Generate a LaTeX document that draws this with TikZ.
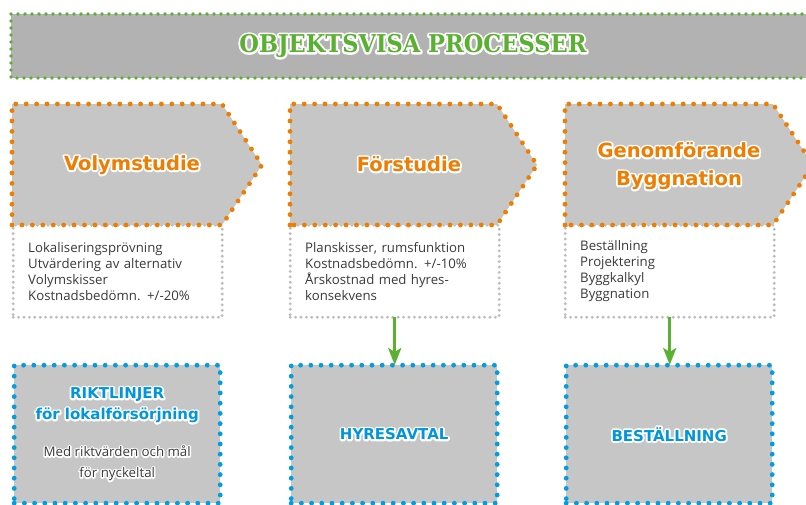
\documentclass[tikz,border=0pt]{standalone}
\usepackage{fontspec}
\usetikzlibrary{arrows.meta,decorations.markings}
\setmainfont{Open Sans}
\newfontfamily\headfont{DejaVu Sans}
\newfontfamily\titlefont{DejaVu Serif}[FakeStretch=0.92]
\definecolor{orng}{HTML}{EE7D00}
\definecolor{blu}{HTML}{009EE0}
\definecolor{bluetext}{HTML}{0096DB}
\definecolor{grn}{HTML}{5AB031}
\definecolor{boxgray}{HTML}{C6C6C6}
\definecolor{titlegray}{HTML}{B2B2B2}
\definecolor{dgray}{HTML}{BDBDBD}
\definecolor{desctext}{HTML}{3A3A3A}
% text with a white outline: a stroked copy behind, then the filled text
\newcommand\halo[4][3.6]{{#2\leavevmode\rlap{\special{pdf:code 1 Tr #1 w 1 J 1 j 1 1 1 RG}#4\special{pdf:code 0 Tr}}\color{#3}#4}}
\begin{document}
\begin{tikzpicture}[x=1pt,y=-1pt,
  dots/.style n args={3}{postaction={decorate, decoration={markings,
      mark=between positions 0 and 1 step #3 with {\fill[#1] (0,0) circle (#2);}}}},
  odot/.style={dots={orng}{2.4pt}{10.4pt}},
  gdot/.style={dots={grn}{1.9pt}{7pt}},
  bdot/.style={dots={blu}{2.4pt}{10.2pt}},
  desc/.style={dots={dgray}{1.6pt}{5.4pt}, fill=white,
    text width=179pt, inner xsep=15pt, inner ysep=0pt, minimum height=92pt,
    align=left, text=desctext, font=\fontsize{13.2}{16}\selectfont, anchor=north west},
  bluebox/.style={bdot, fill=boxgray, minimum width=206pt, minimum height=138pt,
    inner sep=0pt, align=center, anchor=north west},
  headtext/.style={align=center, inner sep=0pt},
  garrow/.style={draw=grn, line width=3.2pt, -{Stealth[length=17pt,width=13pt,inset=4pt]}}
]
\useasboundingbox (0,0) rectangle (806,504);

% title bar
\path[fill=titlegray] (11,14) rectangle (830,78);
\path[gdot] (830,14) -- (11,14) -- (11,78) -- (830,78);
\node[headtext] (title) at (413,46)
  {\halo[4]{\titlefont\bfseries\fontsize{24.5}{28}\selectfont}{grn}{OBJEKTSVISA PROCESSER}};

% description boxes
\node[desc] (d1) at (13,225) {Lokaliseringsprövning\\Utvärdering av alternativ\\Volymskisser\\Kostnadsbedömn. +/-20\%};
\node[desc] (d2) at (290,225) {Planskisser, rumsfunktion\\Kostnadsbedömn. +/-10\%\\Årskostnad med hyres-\\konsekvens};
\node[desc] (d3) at (565,225) {Beställning\\Projektering\\Byggkalkyl\\Byggnation};

% process arrows
\fill[boxgray] (12,104) -- (222,104) -- (262,165) -- (222,225) -- (12,225) -- cycle;
\path[odot] (12,225) -- (12,104) -- (222,104) -- (262,165) -- (222,225) -- cycle;
\fill[boxgray] (290,104) -- (497,104) -- (537,165) -- (497,225) -- (290,225) -- cycle;
\path[odot] (290,225) -- (290,104) -- (497,104) -- (537,165) -- (497,225) -- cycle;
\fill[boxgray] (565,104) -- (773,104) -- (813,165) -- (773,225) -- (565,225) -- cycle;
\path[odot] (565,225) -- (565,104) -- (773,104) -- (813,165) -- (773,225) -- cycle;

\node[headtext] (p1) at (132,165)
  {\halo{\headfont\bfseries\fontsize{19.5}{26}\selectfont}{orng}{Volymstudie}};
\node[headtext] (p2) at (409,164)
  {\halo{\headfont\bfseries\fontsize{19.5}{26}\selectfont}{orng}{Förstudie}};
\node[headtext, font=\fontsize{19.5}{28}\selectfont] (p3) at (679,166)
  {\halo{\headfont\bfseries\fontsize{19.5}{28}\selectfont}{orng}{Genomförande}\\
   \halo{\headfont\bfseries\fontsize{19.5}{28}\selectfont}{orng}{Byggnation}};

% blue boxes
\node[bluebox, font=\fontsize{15}{21}\selectfont] (b1) at (14,365)
  {\halo{\headfont\bfseries\fontsize{15}{21}\selectfont}{bluetext}{RIKTLINJER}\\
   \halo{\headfont\bfseries\fontsize{15}{21}\selectfont}{bluetext}{för lokalförsörjning}\\[16pt]
   \halo[3]{\fontsize{13.3}{16}\selectfont}{desctext}{Med riktvärden och mål}\\
   \halo[3]{\fontsize{13.3}{16}\selectfont}{desctext}{för nyckeltal}};
\node[bluebox] (b2) at (291,365)
  {\halo{\headfont\bfseries\fontsize{15}{21}\selectfont}{bluetext}{HYRESAVTAL}};
\node[bluebox] (b3) at (566,365)
  {\halo{\headfont\bfseries\fontsize{15}{21}\selectfont}{bluetext}{BESTÄLLNING}};

% connectors
\draw[garrow] (d2.south) -- (d2.south |- b2.north);
\draw[garrow] (d3.south) -- (d3.south |- b3.north);
\end{tikzpicture}
\end{document}
